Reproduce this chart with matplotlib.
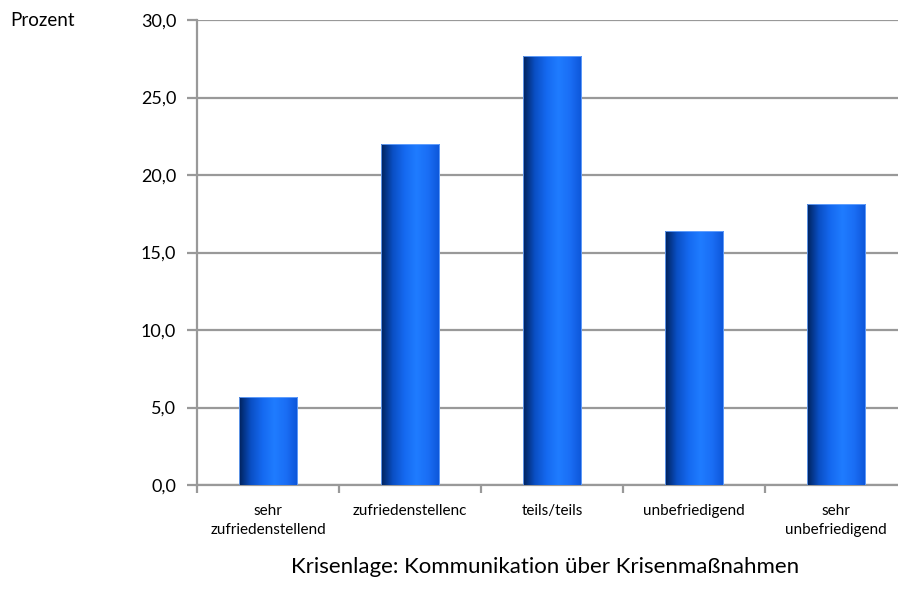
"""Balkendiagramm: Krisenlage - Kommunikation über Krisenmaßnahmen"""

import matplotlib

matplotlib.use("Agg")
import matplotlib.pyplot as plt
import numpy as np
from matplotlib.colors import LinearSegmentedColormap
from matplotlib.ticker import FuncFormatter, MultipleLocator

# Daten
categories = [
    "sehr\nzufriedenstellend",
    "zufriedenstellenc",
    "teils/teils",
    "unbefriedigend",
    "sehr\nunbefriedigend",
]
values = [5.7, 22.0, 27.7, 16.4, 18.1]

plt.rcParams["font.family"] = ["Lato", "DejaVu Sans"]

# Farbverlauf für die Balken (links dunkel, Mitte hell)
bar_cmap = LinearSegmentedColormap.from_list(
    "bar",
    ["#00215a", "#0a4fc4", "#1569f0", "#1f7cff", "#1a6ef5", "#0d55d8"],
)

fig = plt.figure(figsize=(8.98, 5.94), dpi=100, facecolor="white")
ax = fig.add_axes([197 / 898, 109 / 594, 710 / 898, 465 / 594])

x = np.arange(len(categories))
width = 0.41
bars = ax.bar(x, values, width=width, color="none", edgecolor="none", zorder=3)

grad = np.linspace(0, 1, 256).reshape(1, -1)
for b in bars:
    x0, y0 = b.get_x(), b.get_y()
    w, h = b.get_width(), b.get_height()
    im = ax.imshow(
        grad,
        cmap=bar_cmap,
        aspect="auto",
        extent=[x0, x0 + w, y0, y0 + h],
        zorder=3,
        interpolation="bicubic",
    )
    im.set_clip_path(b)
    ax.add_patch(
        plt.Rectangle((x0, y0), w, h, fill=False, edgecolor="#6fa8ff", lw=0.6, zorder=4)
    )

ax.set_xlim(-0.5, len(categories) - 0.5)
ax.set_ylim(0, 30)
ax.yaxis.set_major_locator(MultipleLocator(5))
ax.yaxis.set_major_formatter(FuncFormatter(lambda v, _: f"{v:.1f}".replace(".", ",")))

ax.grid(axis="y", color="#999999", lw=1.6, zorder=1)
ax.set_axisbelow(True)

for side in ("top", "right"):
    ax.spines[side].set_visible(False)
for side in ("left", "bottom"):
    ax.spines[side].set_color("#999999")
    ax.spines[side].set_linewidth(1.6)

# Kategorielabels zwischen den Tickstrichen
ax.set_xticks(np.arange(len(categories) + 1) - 0.5)
ax.set_xticklabels([])
ax.set_xticks(x, minor=True)
ax.set_xticklabels(categories, minor=True, fontsize=11, linespacing=1.4)
ax.tick_params(axis="x", which="major", length=6, width=1.6, color="#999999")
ax.tick_params(axis="x", which="minor", length=0, pad=14)
ax.tick_params(axis="y", length=7, width=1.6, color="#999999", labelsize=13, pad=8)

ax.set_xlabel("Krisenlage: Kommunikation über Krisenmaßnahmen", fontsize=16)
ax.xaxis.set_label_coords((545 - 197) / 710, -0.155)

fig.text(10 / 898, 1 - 20 / 594, "Prozent", fontsize=13.5, va="center", ha="left")

fig.savefig("out.png", dpi=100, facecolor="white")
